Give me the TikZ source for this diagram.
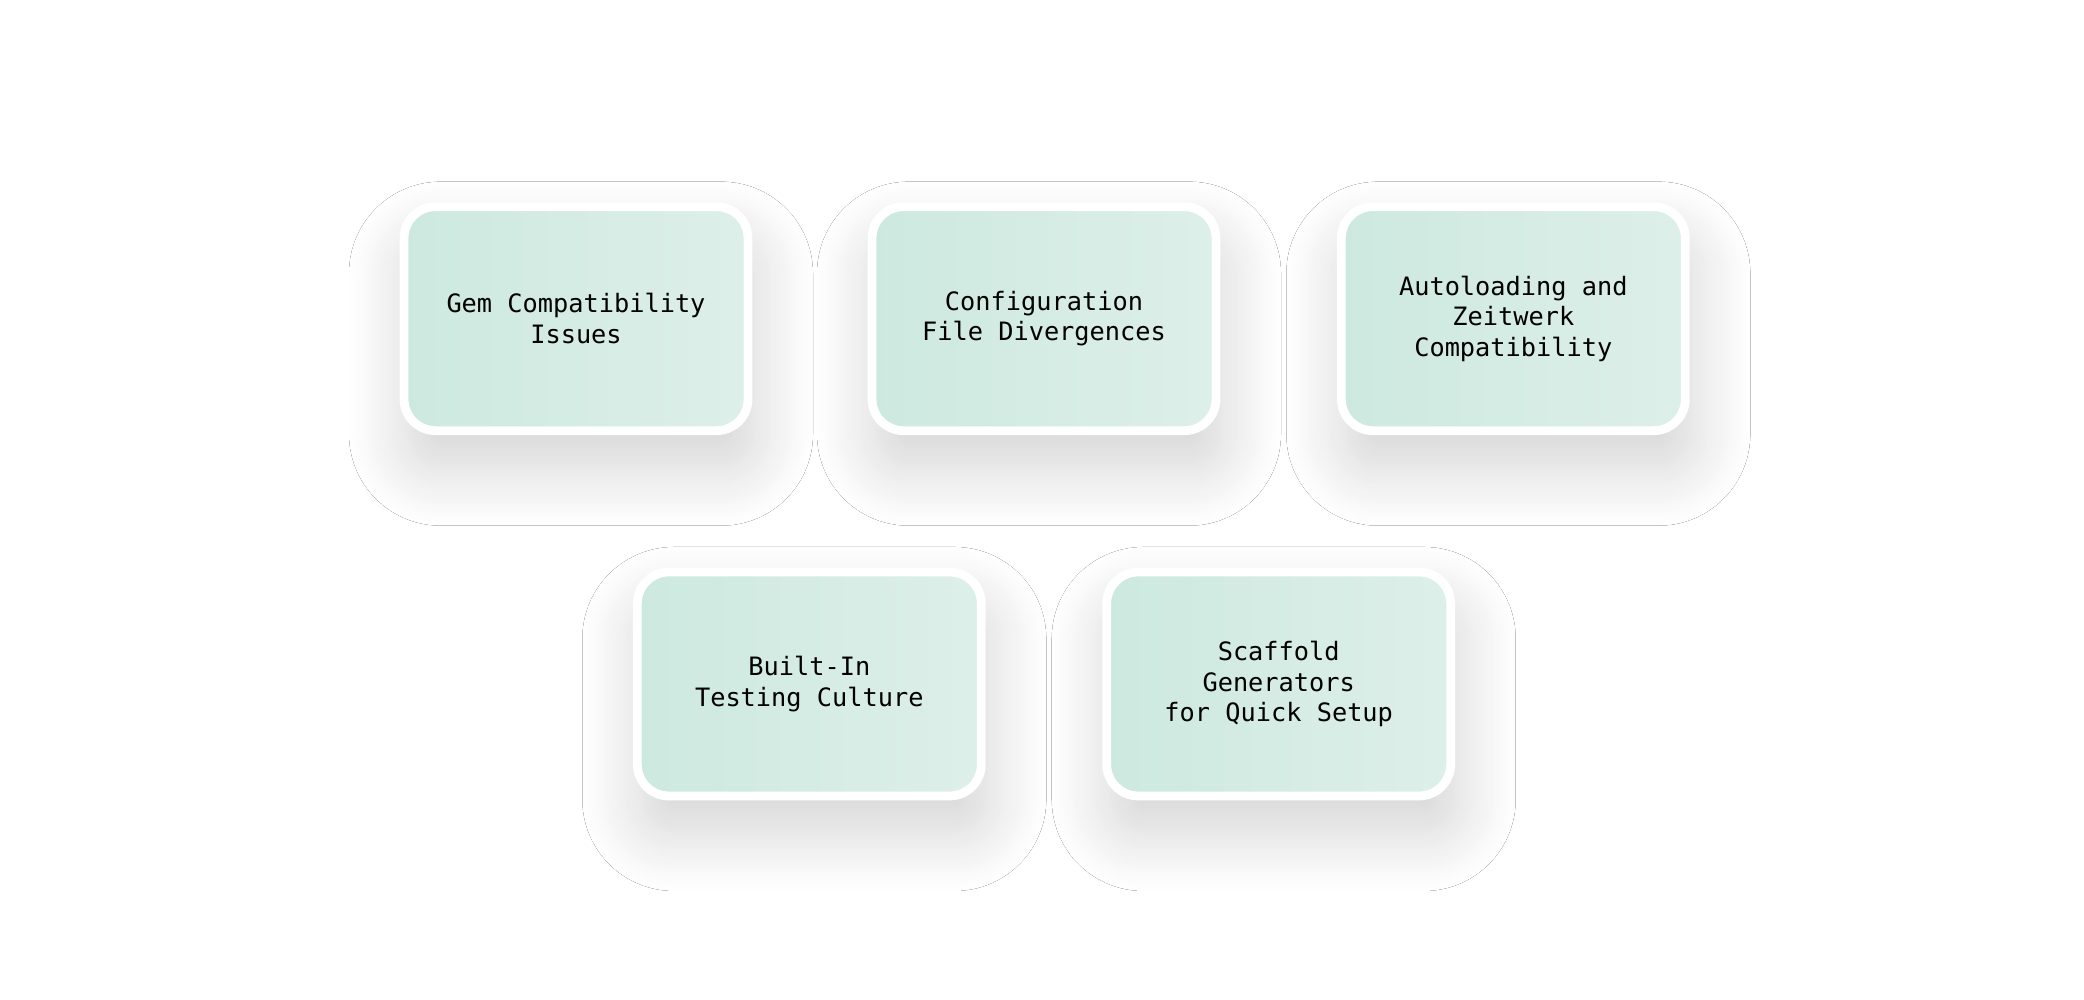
\documentclass[tikz,border=0pt]{standalone}
\usepackage{fontspec}
\setmonofont{DejaVu Sans Mono}
\usetikzlibrary{shadows.blur}
\definecolor{mintA}{HTML}{CDE9DF}
\definecolor{mintB}{HTML}{DDEFE9}
\tikzset{card/.style={draw=white,line width=2.5pt,rounded corners=9pt,
  left color=mintA,right color=mintB,minimum width=3.44cm,minimum height=2.24cm,
  align=center,font=\ttfamily\fontsize{7.2}{8.7}\selectfont,text=black,
  blur shadow={shadow xshift=0.05cm,shadow yshift=-0.35cm,shadow blur radius=0.6cm,shadow opacity=18,shadow blur steps=20}}}
\begin{document}
\begin{tikzpicture}
\fill[white] (0,0) rectangle (20.84,10);
\useasboundingbox (0,0) rectangle (20.84,10);
\node[card] (a) at (5.76,6.813) {Gem Compatibility\\Issues};
\node[card] (b) at (10.44,6.813) {Configuration\\File Divergences};
\node[card] (c) at (15.133,6.813) {Autoloading and\\Zeitwerk\\Compatibility};
\node[card] (d) at (8.093,3.16) {Built-In\\Testing Culture};
\node[card] (e) at (12.787,3.16) {Scaffold\\Generators\\for Quick Setup};
\end{tikzpicture}
\end{document}
